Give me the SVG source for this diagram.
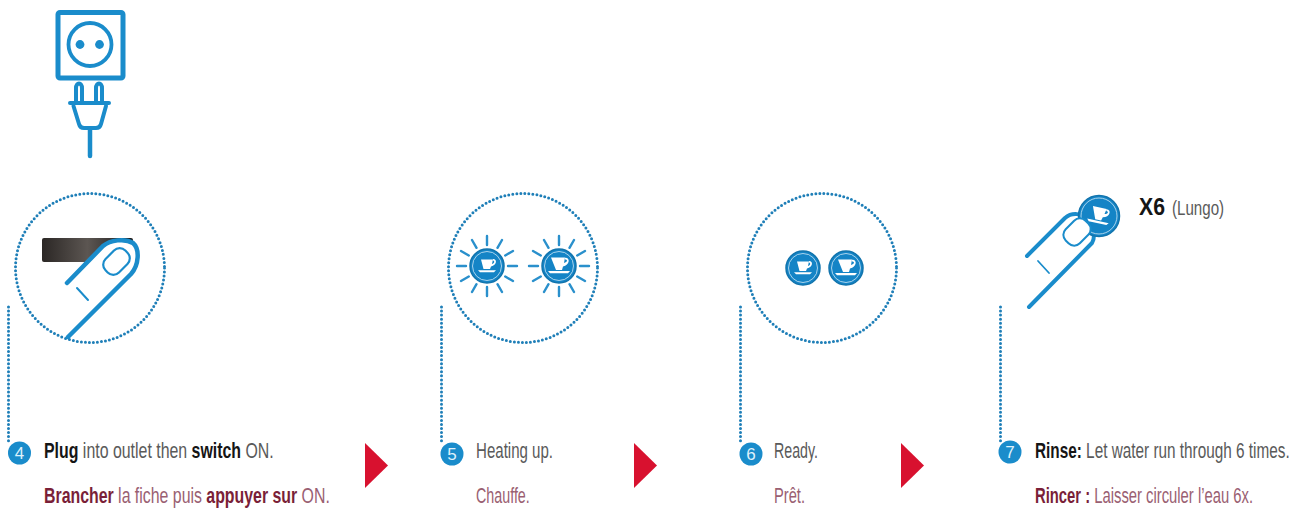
<svg xmlns="http://www.w3.org/2000/svg" width="1294" height="508" viewBox="0 0 1294 508">
<style>
.ln{fill:none;stroke:#1a8ccb;stroke-linecap:round;stroke-linejoin:round}
.dot{fill:none;stroke:#1f7fb8;stroke-width:3;stroke-linecap:round;stroke-dasharray:0 4.05}
.ray{stroke:#2a90cc;stroke-width:2.400;stroke-linecap:round}
.btn{fill:#1484c6;stroke:#1274ad;stroke-width:1.500}
.ring{fill:none;stroke:#cfe7f5;stroke-width:.8}
.cup{fill:#fff}
.num{fill:#1a8ccb}
text{font-family:"Liberation Sans",Arial,sans-serif}
.numt{font-size:17px;fill:#dff1fb;text-anchor:middle}
.en{font-size:22px;fill:#5a5a5a}
.fr{font-size:22px;fill:#9a6072}
.en .b{font-weight:bold;fill:#151515}
.fr .b{font-weight:bold;fill:#7a1f38}
</style>
<defs>
<g id="cupS"><path class="cup" d="M-6-6.500H6L5-2C7.500-2.800 8-5 6-5.500V-7C10.500-7 10-1 4 .5L3 3H-3.500ZM-9 4.200H9L7 6.200H-7Z"/></g>
<g id="cupL"><path class="cup" d="M-8-8.500H6L5-3C8.500-4 9-6.500 6-6.500V-8.200C11.500-8.700 11-1 4 .5L3 4H-3ZM-11 5H11L9 7.200H-9Z"/></g>
<g id="rays"><path class="ray" d="M21 0H30M-21 0H-30M0 21V30M0-21V-30M18.200 10.500L26 15M-18.200 10.500L-26 15M18.200-10.500L26-15M-18.200-10.500L-26-15M10.500 18.200L15 26M-10.500 18.200L-15 26M10.500-18.200L15-26M-10.500-18.200L-15-26"/></g>
<linearGradient id="sw" x1="0" x2="1"><stop offset="0" stop-color="#2b2725"/><stop offset=".5" stop-color="#5c5652"/><stop offset="1" stop-color="#1c1a1a"/></linearGradient>
</defs>
<rect width="1294" height="508" fill="#fff"/>

<g id="socket-plug">
<rect class="ln" x="58" y="12.500" width="65" height="65.500" rx="2" stroke-width="5"/>
<circle class="ln" cx="90" cy="44.500" r="21.500" stroke-width="3.800"/>
<circle cx="80" cy="44.500" r="4.400" fill="#1a8ccb"/><circle cx="99.500" cy="44.500" r="4.400" fill="#1a8ccb"/>
<path class="ln" stroke-width="4" d="M76 101V88C76 82 82 82 82 88V101M96 101V88C96 82 102 82 102 88V101M70 103H109M73.500 106L79 124Q80 128 84 128H96Q100 128 101 124L106 106"/>
<path class="ln" stroke-width="4.500" d="M90 129V156"/>
</g>

<g id="node-4">
<circle class="dot" cx="90" cy="268" r="74.500"/>
<rect x="42" y="238" width="91" height="24" rx="2" fill="url(#sw)"/>
<path d="M68 337L131 274C139 265 140 249 133 243C125 238 110 240 103 246L67 283Z" fill="#fff"/>
<path class="ln" stroke-width="4.500" d="M67 283L103 246C110 240 125 238 133 243C140 249 139 265 131 274L68 337"/>
<rect class="ln" x="102.500" y="252" width="28" height="19" rx="8" transform="rotate(-45 116.500 261.500)" stroke-width="2.200"/>
<path class="ln" stroke-width="2" d="M77 288L88 300"/>
<circle class="num" cx="19.500" cy="453" r="11.500"/><text class="numt" x="19.500" y="459">4</text>
<text class="en" transform="translate(44 458) scale(.723 1)"><tspan class="b">Plug</tspan> into outlet then <tspan class="b">switch</tspan> ON.</text>
<text class="fr" transform="translate(44 503) scale(.722 1)"><tspan class="b">Brancher</tspan> la fiche puis <tspan class="b">appuyer sur</tspan> ON.</text>
</g>

<g id="node-5">
<circle class="dot" cx="523" cy="268" r="74.500"/>
<g transform="translate(487 266)"><use href="#rays"/><circle class="btn" r="17"/><circle class="ring" r="14.500"/><use href="#cupS"/></g>
<g transform="translate(559 266)"><use href="#rays"/><circle class="btn" r="17"/><circle class="ring" r="14.500"/><use href="#cupL"/></g>
<circle class="num" cx="452" cy="454" r="11.500"/><text class="numt" x="452" y="460">5</text>
<text class="en" transform="translate(476 458) scale(.685 1)">Heating up.</text>
<text class="fr" transform="translate(476 503) scale(.65 1)">Chauffe.</text>
</g>

<g id="node-6">
<circle class="dot" cx="822" cy="268" r="74.500"/>
<g transform="translate(803 268)"><circle class="btn" r="17"/><circle class="ring" r="14.500"/><use href="#cupS"/></g>
<g transform="translate(846 268)"><circle class="btn" r="17"/><circle class="ring" r="14.500"/><use href="#cupL"/></g>
<circle class="num" cx="751" cy="454" r="11.500"/><text class="numt" x="751" y="460">6</text>
<text class="en" transform="translate(774 458) scale(.647 1)">Ready.</text>
<text class="fr" transform="translate(774 503) scale(.668 1)">Prêt.</text>
</g>

<g id="node-7">
<path class="ln" stroke-width="4" d="M1027 256L1065 218C1072 212 1082 213 1089 220C1095 227 1095 238 1092 243L1029 307"/>
<g transform="translate(1099 216)"><circle class="btn" r="20.500"/><circle class="ring" r="18"/><use href="#cupL" transform="rotate(12)"/></g>
<rect class="ln" x="1063" y="222" width="28" height="20" rx="8" transform="rotate(-45 1077 232)" stroke-width="2" style="fill:#fff"/>
<path class="ln" stroke-width="1.800" d="M1038 261L1049 273"/>
<circle class="num" cx="1010" cy="452" r="11.500"/><text class="numt" x="1010" y="458">7</text>
<text transform="translate(1139 215) scale(.885 1)" font-size="24" font-weight="bold" fill="#151515">X6</text>
<text transform="translate(1172 215) scale(.72 1)" font-size="21" fill="#5a5a5a">(Lungo)</text>
<text class="en" transform="translate(1035 458) scale(.697 1)"><tspan class="b">Rinse:</tspan> Let water run through 6 times.</text>
<text class="fr" transform="translate(1035 503) scale(.673 1)"><tspan class="b">Rincer :</tspan> Laisser circuler l’eau 6x.</text>
</g>

<g id="connectors">
<path class="dot" d="M8.500 307V442M441.500 307V443M740.500 307V443M1000.500 307V441"/>
<g fill="#d8112f"><path d="M365 443L388 465.500L365 488Z"/><path d="M634 443L657 465.500L634 488Z"/><path d="M901 443L924 465.500L901 488Z"/></g>
</g>
</svg>
